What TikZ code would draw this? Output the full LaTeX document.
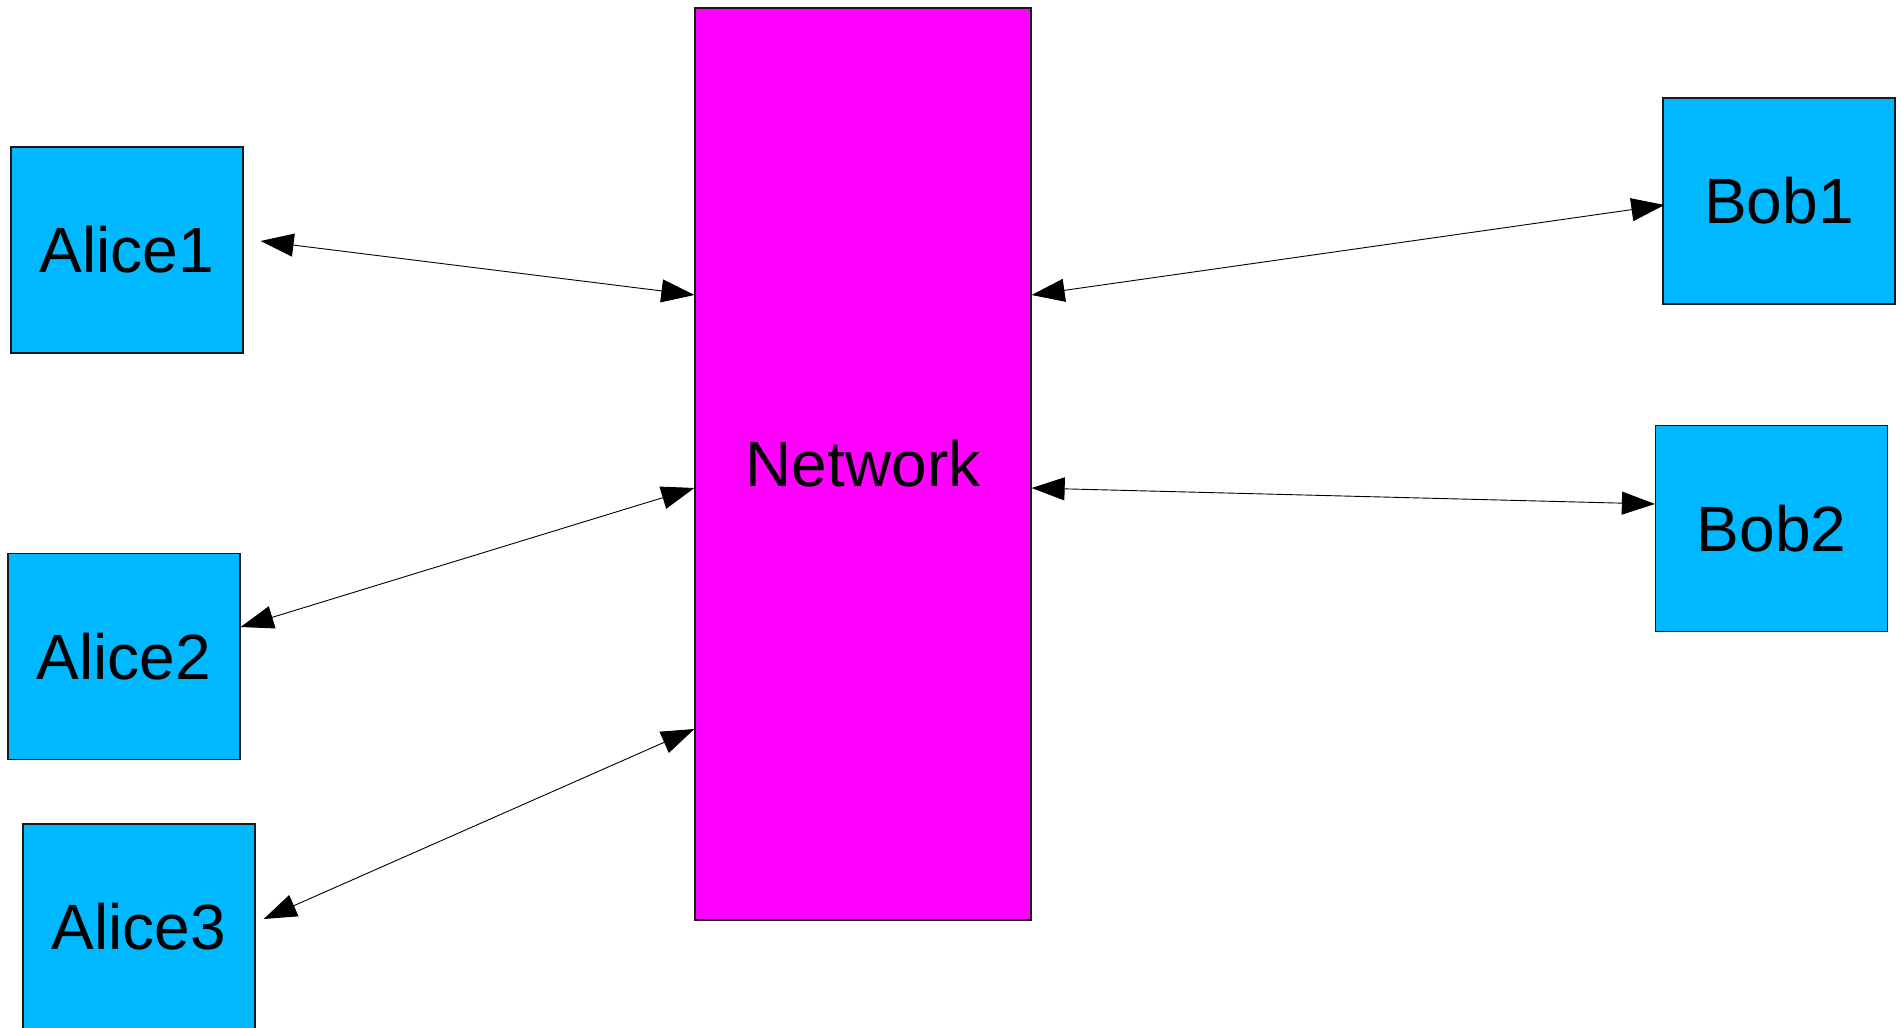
\documentclass[tikz,border=0pt]{standalone}
\usepackage{fontspec}
\setmainfont{Liberation Sans}
\usetikzlibrary{arrows.meta,calc}
\definecolor{hostblue}{HTML}{00B8FF}
\definecolor{netpink}{HTML}{FF00FF}
\begin{document}
\begin{tikzpicture}[x=1pt,y=-1pt,
  host/.style={draw=black!90,line width=1.3pt,fill=hostblue,minimum width=232pt,minimum height=206pt,inner sep=0pt,font=\fontsize{64}{72}\selectfont},
  netbox/.style={draw=black!90,line width=1.3pt,fill=netpink,minimum width=336pt,minimum height=912pt,inner sep=0pt,font=\fontsize{64}{72}\selectfont},
  link/.style={line width=0.9pt,{Triangle[length=33pt,width=23pt]}-{Triangle[length=33pt,width=23pt]}}]
\useasboundingbox (0,0) rectangle (1901,1028);
\begin{scope}
\clip (0,0) rectangle (1901,1028);
\node[netbox] (net) at (863,464) {Network};
\node[host] (alice1) at (127,250) {Alice1};
\node[host] (alice2) at (124,656.5) {Alice2};
\node[host] (alice3) at (139,927) {Alice3};
\node[host] (bob1) at (1779,201) {Bob1};
\node[host] (bob2) at (1771.5,528.5) {Bob2};
% links between hosts and the network
\draw[link] ($(alice1.east)+(17,-9)$) -- ($(net.west)+(0,-169)$);
\draw[link] ($(alice2.east)+(0,-29.5)$) -- ($(net.west)+(0,24)$);
\draw[link] ($(alice3.east)+(8,-8)$) -- ($(net.west)+(0,265)$);
\draw[link] ($(net.east)+(0,-169)$) -- ($(bob1.west)+(2,4)$);
\draw[link] ($(net.east)+(0,24)$) -- ($(bob2.west)+(0,-24.5)$);
\end{scope}
\end{tikzpicture}
\end{document}
